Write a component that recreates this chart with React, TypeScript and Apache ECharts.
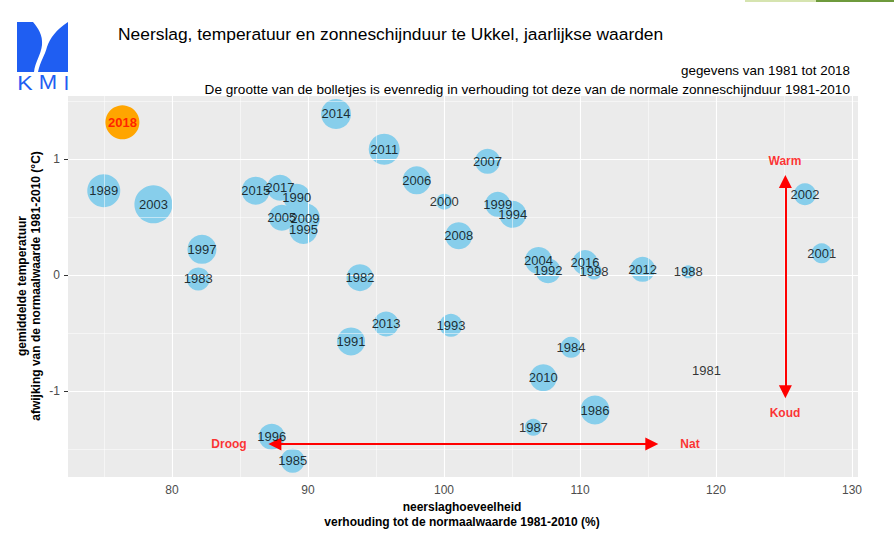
import React, { useEffect, useRef } from "react";
import * as echarts from "echarts";

// Jaren en waarden
const jaren = [
  1981, 1982, 1983, 1984, 1985, 1986, 1987, 1988, 1989, 1990,
  1991, 1992, 1993, 1994, 1995, 1996, 1997, 1998, 1999, 2000,
  2001, 2002, 2003, 2004, 2005, 2006, 2007, 2008, 2009, 2010,
  2011, 2012, 2013, 2014, 2015, 2016, 2017, 2018,
];
// neerslaghoeveelheid, % van normaal
const neerslag = [
  119.3, 93.82, 81.93, 109.34, 88.87, 111.1, 106.57, 117.96, 74.98, 89.17,
  93.16, 107.65, 100.51, 105.05, 89.66, 87.33, 82.2, 111.03, 103.95, 100.02,
  127.77, 126.54, 78.63, 106.95, 88.07, 97.99, 103.2, 101.08, 89.78, 107.3,
  95.6, 114.6, 95.74, 92.06, 86.15, 110.37, 87.94, 76.35,
];
// temperatuurafwijking, °C
const temperatuur = [
  -0.825, -0.023, -0.034, -0.623, -1.601, -1.164, -1.313, 0.028, 0.727, 0.67,
  -0.572, 0.037, -0.434, 0.523, 0.388, -1.394, 0.221, 0.03, 0.609, 0.632,
  0.187, 0.696, 0.609, 0.125, 0.494, 0.816, 0.98, 0.339, 0.489, -0.885,
  1.084, 0.049, -0.422, 1.388, 0.727, 0.108, 0.753, 1.316,
];
// zonneschijnduur, % van normaal (geschat uit de grootte van de bolletjes)
const zonneschijn = [
  76, 105, 101, 99, 102, 107, 95, 91, 111, 105,
  106, 103, 101, 105, 106, 104, 107, 94, 103, 94,
  98, 100, 116, 105, 104, 106, 103, 105, 108, 105,
  109, 103, 103, 108, 106, 103, 104, 112,
];

const xTicks = [80, 90, 100, 110, 120, 130];
const xMinor = [75, 85, 95, 105, 115, 125];
const yTicks = [-1, 0, 1];
const yMinor = [-1.5, -0.5, 0.5, 1.5];

const pijlLabels = ["Warm", "Koud", "Droog", "Nat"];
const pijlLabelX = [125.07, 125.07, 84.19, 118.09];
const pijlLabelY = [0.983, -1.19, -1.457, -1.457];

const highlightJaar = 2018;
const FONT = "'Liberation Sans', Arial, Helvetica, sans-serif";

let shapeRegistered = false;
function registerLogo() {
  if (shapeRegistered) return;
  shapeRegistered = true;
  echarts.graphic.registerShape(
    "kmiLeft",
    echarts.graphic.extendPath(
      "M0,0 L16,0 C21,6 26,13 25,23 C24,33 18,40 17,50 L0,50 Z",
      {}
    ) as any
  );
  echarts.graphic.registerShape(
    "kmiRight",
    echarts.graphic.extendPath(
      "M51,0 L51,50 L21,50 C23,40 28,33 30,25 C33,16 39,8 51,0 Z",
      {}
    ) as any
  );
}

const txt = (
  x: number, y: number, text: string, fontSize: number,
  align: string, extra: any = {}, fill = "#000000"
) => ({
  type: "text", x, y, ...extra,
  style: {
    text, fill, fontSize, fontFamily: FONT,
    align, verticalAlign: "middle", textAlign: align, textVerticalAlign: "middle",
    ...(extra.style || {}),
  },
});

export default function App() {
  const ref = useRef<HTMLDivElement>(null);

  useEffect(() => {
    if (!ref.current) return;
    registerLogo();
    const chart = echarts.init(ref.current, null, { renderer: "svg" });

    const points = jaren.map((j, i) => ({
      value: [neerslag[i], temperatuur[i], zonneschijn[i], j],
      itemStyle: j === highlightJaar ? { color: "#FFA500" } : undefined,
    }));
    const labelPoints = jaren.map((j, i) => ({
      value: [neerslag[i], temperatuur[i], zonneschijn[i], j],
      label:
        j === highlightJaar
          ? { color: "#FF0000", fontWeight: "bold" }
          : undefined,
    }));

    const gridLines = [
      ...xTicks.map((v) => ({ xAxis: v, lineStyle: { width: 1.1 } })),
      ...xMinor.map((v) => ({ xAxis: v, lineStyle: { width: 0.5 } })),
      ...yTicks.map((v) => ({ yAxis: v, lineStyle: { width: 1.1 } })),
      ...yMinor.map((v) => ({ yAxis: v, lineStyle: { width: 0.5 } })),
    ];

    const option: any = {
      animation: false,
      textStyle: { fontFamily: FONT },
      grid: {
        left: 68,
        right: 36,
        top: 96,
        bottom: 71,
        show: true,
        backgroundColor: "#EBEBEB",
        borderWidth: 0,
      },
      xAxis: {
        type: "value",
        min: 72.35,
        max: 130.44,
        splitLine: { show: false },
        axisLine: { show: false },
        axisTick: {
          show: true,
          length: 4,
          customValues: xTicks,
          lineStyle: { color: "#333333", width: 1 },
        },
        axisLabel: {
          customValues: xTicks,
          color: "#4D4D4D",
          fontSize: 12,
          margin: 7,
          fontFamily: FONT,
        },
      },
      yAxis: {
        type: "value",
        min: -1.741,
        max: 1.543,
        splitLine: { show: false },
        axisLine: { show: false },
        axisTick: {
          show: true,
          length: 4,
          customValues: yTicks,
          lineStyle: { color: "#333333", width: 1 },
        },
        axisLabel: {
          customValues: yTicks,
          color: "#4D4D4D",
          fontSize: 12,
          margin: 8,
          fontFamily: FONT,
        },
      },
      series: [
        {
          type: "scatter",
          data: [],
          z: 1,
          silent: true,
          markLine: {
            silent: true,
            symbol: ["none", "none"],
            label: { show: false },
            lineStyle: { color: "#FFFFFF", type: "solid" },
            emphasis: { disabled: true },
            data: gridLines,
          },
        },
        {
          type: "scatter",
          z: 3,
          data: points,
          symbolSize: (val: number[]) => Math.max(0, val[2] - 78),
          itemStyle: { color: "#87CEEB", opacity: 1 },
          silent: true,
        },
        {
          type: "scatter",
          z: 5,
          data: [],
          silent: true,
          markLine: {
            silent: true,
            symbol: ["triangle", "triangle"],
            symbolSize: 13,
            label: { show: false },
            lineStyle: { color: "#FF0000", width: 2, type: "solid" },
            itemStyle: { color: "#FF0000" },
            emphasis: { disabled: true },
            data: [
              [{ coord: [87.56, -1.457] }, { coord: [115.28, -1.457] }],
              [{ coord: [125.1, 0.806] }, { coord: [125.1, -1.007] }],
            ],
          },
        },
        {
          type: "scatter",
          z: 6,
          data: labelPoints,
          symbolSize: 0,
          silent: true,
          label: {
            show: true,
            position: "inside",
            formatter: (p: any) => String(p.value[3]),
            color: "#000000",
            fontSize: 13,
            fontFamily: FONT,
          },
        },
        {
          type: "scatter",
          z: 6,
          symbolSize: 0,
          silent: true,
          data: pijlLabels.map((t, i) => ({
            value: [pijlLabelX[i], pijlLabelY[i], t],
          })),
          label: {
            show: true,
            position: "inside",
            formatter: (p: any) => p.value[2],
            color: "#FF0000",
            fontSize: 12,
            fontWeight: "bold",
            fontFamily: FONT,
          },
        },
      ],
      graphic: [
        { type: "rect", shape: { x: 745, y: 0, width: 71, height: 2 }, style: { fill: "#D6E4B0" } },
        { type: "rect", shape: { x: 816, y: 0, width: 78, height: 2 }, style: { fill: "#6E9A3C" } },
        { type: "kmiLeft", x: 17, y: 22, style: { fill: "#1F5EF2" } },
        { type: "kmiRight", x: 17, y: 22, style: { fill: "#1F5EF2" } },
        txt(25, 82.5, "K", 21, "center", { scaleX: 1.1 }, "#1F5EF2"),
        txt(48, 82.5, "M", 21, "center", { scaleX: 1.05 }, "#1F5EF2"),
        txt(66.5, 82.5, "I", 21, "center", {}, "#1F5EF2"),
        txt(118, 34, "Neerslag, temperatuur en zonneschijnduur te Ukkel, jaarlijkse waarden", 17.4, "left"),
        txt(850, 70, "gegevens van 1981 tot 2018", 13.4, "right"),
        txt(850, 89, "De grootte van de bolletjes is evenredig in verhouding tot deze van de normale zonneschijnduur 1981-2010", 13.6, "right"),
        txt(462, 514.5, "neerslaghoeveelheid\nverhouding tot de normaalwaarde 1981-2010 (%)", 12, "center", {
          style: { fontWeight: "bold", lineHeight: 15 },
        }),
        txt(29, 286, "gemiddelde temperatuur\nafwijking van de normaalwaarde 1981-2010 (°C)", 12, "center", {
          rotation: Math.PI / 2,
          style: { fontWeight: "bold", lineHeight: 14 },
        }),
      ],
    };

    chart.setOption(option);
    return () => chart.dispose();
  }, []);

  return (
    <div
      ref={ref}
      style={{ position: "absolute", left: 0, top: 0, width: 894, height: 548, background: "#FFFFFF" }}
    />
  );
}
